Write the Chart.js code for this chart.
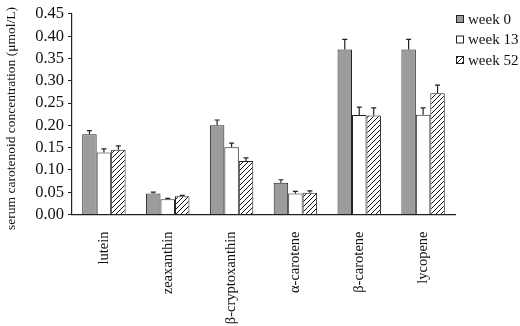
<!DOCTYPE html>
<html>
<head>
<meta charset="utf-8">
<script src="https://cdn.jsdelivr.net/npm/chart.js@4"></script>
<style>
  body { margin: 0; background: #fff; }
  canvas { display: block; }
</style>
</head>
<body>
<canvas id="carotenoids" width="520" height="326"></canvas>
<script>
const categories = ['lutein', 'zeaxanthin', 'β-cryptoxanthin', 'α-carotene', 'β-carotene', 'lycopene'];
const seriesNames = ['week 0', 'week 13', 'week 52'];
const week0 = [0.180, 0.047, 0.200, 0.071, 0.370, 0.370];
const week0Err = [0.008, 0.003, 0.012, 0.007, 0.023, 0.023];
const week13 = [0.139, 0.034, 0.151, 0.047, 0.223, 0.224];
const week13Err = [0.008, 0.002, 0.009, 0.005, 0.018, 0.015];
const week52 = [0.145, 0.041, 0.120, 0.049, 0.222, 0.272];
const week52Err = [0.009, 0.002, 0.007, 0.004, 0.017, 0.018];
const yTicks = [0, 0.05, 0.10, 0.15, 0.20, 0.25, 0.30, 0.35, 0.40, 0.45];
const yTitle = 'serum carotenoid concentration (μmol/L)';

const serif = "'Liberation Serif', 'Times New Roman', serif";
const ink = '#222';

function hatch() {
    const c = document.createElement('canvas');
    c.width = 5;
    c.height = 5;
    const g = c.getContext('2d');
    g.fillStyle = '#fff';
    g.fillRect(0, 0, 5, 5);
    g.strokeStyle = '#111';
    g.lineWidth = 1;
    g.beginPath();
    g.moveTo(-1, 6); g.lineTo(6, -1);
    g.moveTo(-1, 1); g.lineTo(1, -1);
    g.moveTo(4, 6); g.lineTo(6, 4);
    g.stroke();
    return g.createPattern(c, 'repeat');
}

const errors = [week0Err, week13Err, week52Err];

const errorBars = {
    id: 'errorBars',
    afterDatasetsDraw(chart) {
        const ctx = chart.ctx;
        const y = chart.scales.y;
        ctx.save();
        ctx.strokeStyle = ink;
        ctx.lineWidth = 1.2;
        chart.data.datasets.forEach((ds, i) => {
            chart.getDatasetMeta(i).data.forEach((bar, j) => {
                const top = y.getPixelForValue(ds.data[j] + errors[i][j]);
                ctx.beginPath();
                ctx.moveTo(bar.x, bar.y);
                ctx.lineTo(bar.x, top);
                ctx.moveTo(bar.x - 2.5, top);
                ctx.lineTo(bar.x + 2.5, top);
                ctx.stroke();
            });
        });
        ctx.restore();
    }
};

// legend box at the upper right and the long y title, which sits a little low
const sideText = {
    id: 'sideText',
    afterDraw(chart) {
        const ctx = chart.ctx;
        ctx.save();
        ctx.font = '15px ' + serif;
        ctx.textBaseline = 'middle';
        chart.data.datasets.forEach((ds, i) => {
            const cy = 19 + i * 20.5;
            ctx.fillStyle = ds.backgroundColor;
            ctx.fillRect(456, cy - 4, 8, 8);
            ctx.strokeStyle = ink;
            ctx.lineWidth = 1;
            ctx.strokeRect(456.5, cy - 3.5, 7, 7);
            ctx.fillStyle = '#111';
            ctx.fillText(ds.label, 468, cy + 1);
        });

        ctx.font = '13.5px ' + serif;
        ctx.textAlign = 'center';
        ctx.translate(11, 118.5);
        ctx.rotate(-Math.PI / 2);
        ctx.fillText(yTitle, 0, 0);
        ctx.restore();
    }
};

const values = [week0, week13, week52];
const fills = ['#9c9c9c', '#ffffff', hatch()];

new Chart(document.getElementById('carotenoids'), {
    type: 'bar',
    data: {
        labels: categories,
        datasets: seriesNames.map((name, i) => ({
            label: name,
            data: values[i],
            backgroundColor: fills[i],
            borderColor: ink,
            borderWidth: 1,
            categoryPercentage: 0.68,
            barPercentage: 1.0
        }))
    },
    options: {
        responsive: false,
        animation: false,
        layout: { padding: { left: 0, right: 65, top: 7, bottom: 0 } },
        plugins: {
            legend: { display: false },
            tooltip: { enabled: false }
        },
        scales: {
            x: {
                grid: { display: false, drawTicks: false },
                border: { display: true, color: ink, width: 1.2 },
                ticks: {
                    minRotation: 90,
                    maxRotation: 90,
                    padding: 17,
                    color: '#111',
                    font: { family: serif, size: 14.5 }
                },
                afterFit(scale) { scale.height = 111.5; }
            },
            y: {
                min: 0,
                max: 0.45,
                afterBuildTicks(scale) { scale.ticks = yTicks.map(v => ({ value: v })); },
                grid: { drawOnChartArea: false, drawTicks: true, tickLength: 4, color: ink },
                border: { display: true, color: ink, width: 1.2 },
                ticks: {
                    autoSkip: false,
                    padding: 4,
                    color: '#111',
                    font: { family: serif, size: 16.5 },
                    callback: v => v.toFixed(2)
                },
                title: { display: false },
                afterFit(scale) { scale.width = 72; }
            }
        }
    },
    plugins: [errorBars, sideText]
});
</script>
</body>
</html>
